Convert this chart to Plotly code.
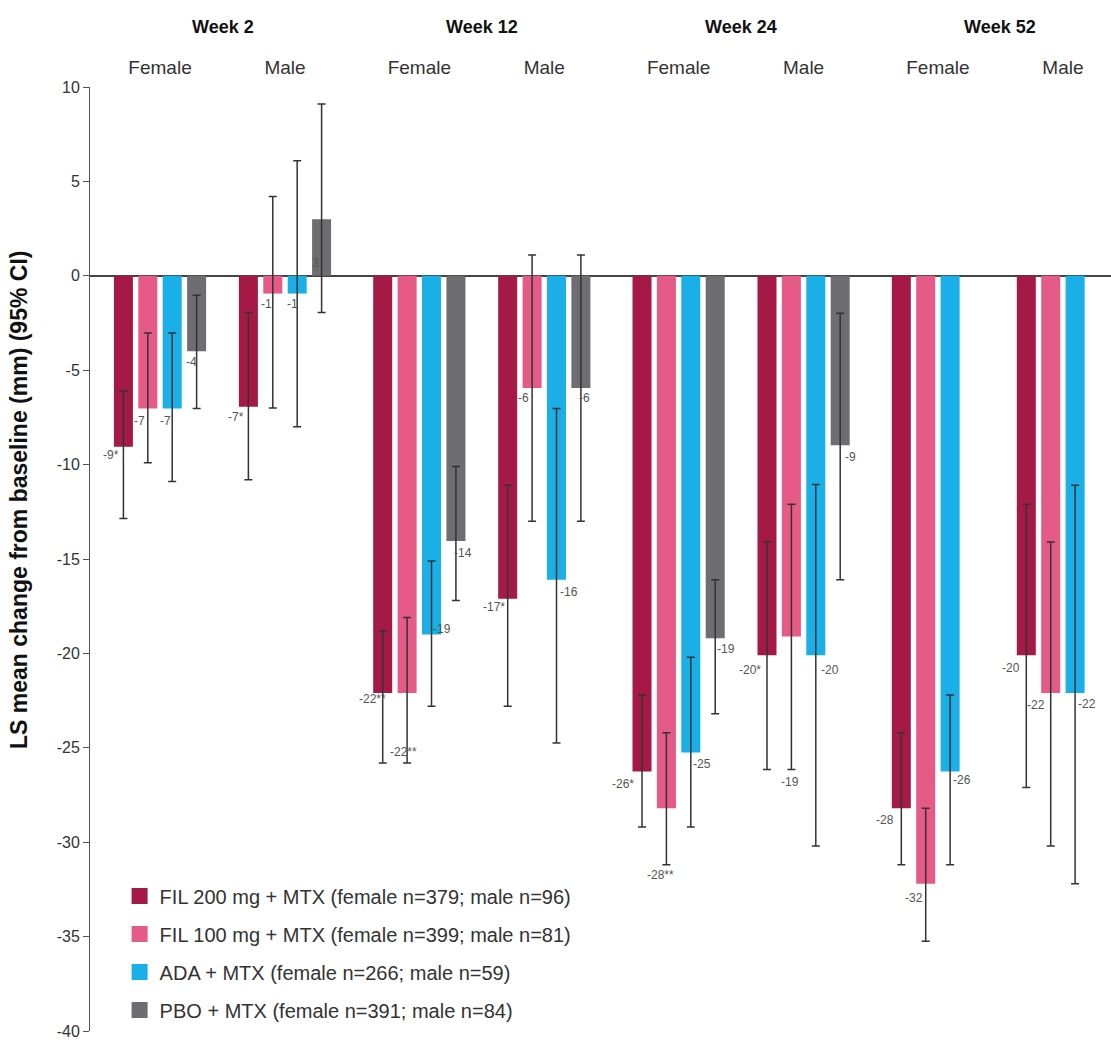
import plotly.graph_objects as go

# ---------------- data ----------------
weeks = ["Week 2", "Week 12", "Week 24", "Week 52"]
sexes = ["Female", "Male"]
treatments = [
    "FIL 200 mg + MTX (female n=379; male n=96)",
    "FIL 100 mg + MTX (female n=399; male n=81)",
    "ADA + MTX (female n=266; male n=59)",
    "PBO + MTX (female n=391; male n=84)",
]
# subgroup order: W2 F, W2 M, W12 F, W12 M, W24 F, W24 M, W52 F, W52 M
fil200_mean = [-9.06, -6.93, -22.1, -17.1, -26.25, -20.1, -28.2, -20.1]
fil200_lo = [-12.85, -10.8, -25.8, -22.8, -29.2, -26.15, -31.2, -27.1]
fil200_hi = [-6.1, -1.95, -18.8, -11.1, -22.2, -14.1, -24.2, -12.1]
fil200_lab = ["-9*", "-7*", "-22**", "-17*", "-26*", "-20*", "-28", "-20"]

fil100_mean = [-7.03, -0.94, -22.1, -5.94, -28.2, -19.1, -32.2, -22.1]
fil100_lo = [-9.9, -7.0, -25.8, -13.0, -31.2, -26.15, -35.25, -30.2]
fil100_hi = [-3.03, 4.2, -18.1, 1.1, -24.2, -12.1, -28.2, -14.1]
fil100_lab = ["-7", "-1", "-22**", "-6", "-28**", "-19", "-32", "-22"]

ada_mean = [-7.03, -0.94, -19.0, -16.1, -25.25, -20.1, -26.25, -22.1]
ada_lo = [-10.9, -8.0, -22.8, -24.75, -29.2, -30.2, -31.2, -32.2]
ada_hi = [-3.03, 6.1, -15.1, -7.03, -20.2, -11.05, -22.2, -11.1]
ada_lab = ["-7", "-1", "-19", "-16", "-25", "-20", "-26", "-22"]

pbo_mean = [-4.0, 3.0, -14.05, -5.94, -19.2, -8.98, None, None]
pbo_lo = [-7.03, -1.95, -17.2, -13.0, -23.2, -16.1, None, None]
pbo_hi = [-1.03, 9.1, -10.1, 1.1, -16.1, -1.98, None, None]
pbo_lab = ["-4", "3", "-14", "-6", "-19", "-9", None, None]

y_ticks = [10, 5, 0, -5, -10, -15, -20, -25, -30, -35, -40]

# ---------------- style ----------------
FONT = "Liberation Sans, Arial, sans-serif"
COLORS = ["#A51946", "#E55A87", "#1AAFE6", "#6D6D72"]
SEX_OFFSET = 0.482   # distance female -> male group (in week units)
SLOT = 0.0941        # bar step inside a group
BAR_W = 0.0733       # bar width
# label offsets in px (dx, dy: positive dy = below the bar end)
LABEL_OFFSETS = [
    [(-12, 8), (-12, 10), (-10, 6), (-14, 8), (-19, 13), (-17, 15), (-16, 12), (-15, 13)],
    [(-8, 12), (-6, 10), (-4, 59), (-9, 10), (-6, 67), (-1, 146), (-12, 14), (-15, 12)],
    [(-7, 12), (-5, 10), (10, -6), (12, 12), (11, 11), (14, 15), (12, 9), (12, 11)],
    [(-5, 11), (-6, 44), (7, 12), (4, 10), (11, 11), (10, 12), (0, 0), (0, 0)],
]

series = [
    (fil200_mean, fil200_lo, fil200_hi, fil200_lab),
    (fil100_mean, fil100_lo, fil100_hi, fil100_lab),
    (ada_mean, ada_lo, ada_hi, ada_lab),
    (pbo_mean, pbo_lo, pbo_hi, pbo_lab),
]

group_centers = [w + s * SEX_OFFSET for w in range(len(weeks)) for s in range(len(sexes))]
group_labels = [sx for _ in weeks for sx in sexes]

fig = go.Figure()
annotations = []
for k, (mean, lo, hi, lab) in enumerate(series):
    xs = [c + (k - 1.5) * SLOT for c in group_centers]
    plus = [None if m is None else h - m for m, h in zip(mean, hi)]
    minus = [None if m is None else m - l for m, l in zip(mean, lo)]
    fig.add_trace(go.Bar(
        x=xs, y=mean, width=BAR_W, name=treatments[k],
        marker=dict(color=COLORS[k], line=dict(width=0)),
        legendgroup=f"g{k}", showlegend=False,
        error_y=dict(type="data", symmetric=False, array=plus, arrayminus=minus,
                     color="#333333", thickness=1.5, width=4),
    ))
    # legend key (larger square swatch, like the original)
    fig.add_trace(go.Scatter(
        x=[None], y=[None], mode="markers", name=treatments[k],
        legendgroup=f"g{k}", showlegend=True,
        marker=dict(symbol="square", size=22, color=COLORS[k]),
    ))
    for i, (x, m, t) in enumerate(zip(xs, mean, lab)):
        if m is None or t is None:
            continue
        dx, dy = LABEL_OFFSETS[k][i]
        annotations.append(dict(
            x=x, y=m, xref="x", yref="y", text=t, showarrow=False,
            xshift=dx, yshift=-dy, xanchor="center", yanchor="middle",
            font=dict(family=FONT, size=12, color="#555555"),
        ))

for w, wk in enumerate(weeks):
    annotations.append(dict(
        x=w + SEX_OFFSET / 2, y=1, xref="x", yref="paper", text=f"<b>{wk}</b>",
        showarrow=False, yshift=60, yanchor="middle", xanchor="center",
        font=dict(family=FONT, size=18, color="#111111"),
    ))

annotations.append(dict(
    x=0, y=0.5625, xref="paper", yref="paper", xshift=-71, textangle=-90,
    text="<b>LS mean change from baseline (mm) (95% CI)</b>", showarrow=False,
    xanchor="center", yanchor="middle",
    font=dict(family=FONT, size=23, color="#111111"),
))

fig.update_layout(
    width=1111, height=1046,
    margin=dict(l=90, r=0, t=87, b=15),
    paper_bgcolor="white", plot_bgcolor="white",
    barmode="overlay",
    annotations=annotations,
    font=dict(family=FONT, color="#333333"),
    legend=dict(
        x=0.029, y=0.1636, xanchor="left", yanchor="top",
        font=dict(family=FONT, size=20, color="#333333"),
        bgcolor="rgba(0,0,0,0)", tracegroupgap=9, itemsizing="trace",
    ),
    xaxis=dict(
        side="top", range=[-0.27, 3.6675], tickmode="array",
        tickvals=group_centers, ticktext=group_labels,
        tickfont=dict(family=FONT, size=19, color="#333333"),
        ticks="outside", ticklen=4, tickcolor="rgba(0,0,0,0)",
        showline=False, showgrid=False, zeroline=False, automargin=False,
    ),
    yaxis=dict(
        range=[-40, 10], tickmode="array", tickvals=y_ticks,
        ticktext=[str(v) for v in y_ticks],
        tickfont=dict(family=FONT, size=16, color="#333333"),
        ticks="outside", ticklen=6, tickcolor="#555555",
        showline=True, linecolor="#555555", linewidth=1,
        showgrid=False, zeroline=True, zerolinecolor="#444444", zerolinewidth=2,
        automargin=False,
    ),
)

fig.write_html("out.html", config={"displayModeBar": False},
               post_script="document.body.style.margin='0';")
